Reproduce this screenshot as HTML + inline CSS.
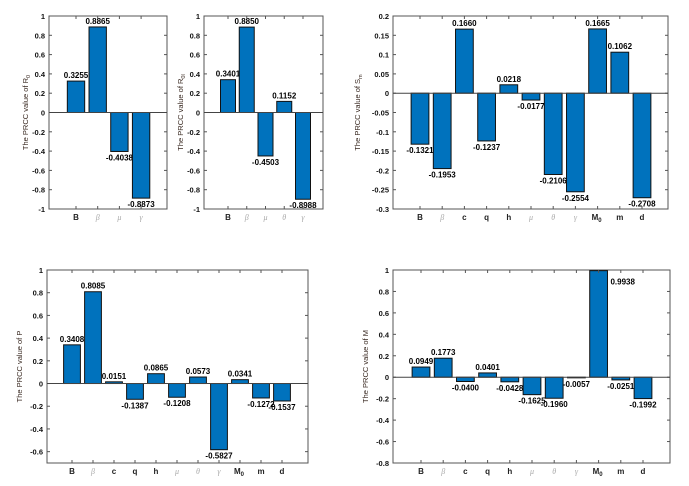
<!DOCTYPE html>
<html><head><meta charset="utf-8"><style>
body{margin:0;background:#fff;}
svg{display:block;font-family:"Liberation Sans",sans-serif;}
</style></head><body>
<svg id="c" width="689" height="486" viewBox="0 0 689 486"></svg>
<script>
const catsR0=["B","β","μ","γ"];
const valsR0=[0.3255,0.8865,-0.4038,-0.8873];
const catsR0l=["B","β","μ","θ","γ"];
const valsR0l=[0.3401,0.8850,-0.4503,0.1152,-0.8988];
const catsFull=["B","β","c","q","h","μ","θ","γ","M0","m","d"];
const valsSm=[-0.1321,-0.1953,0.1660,-0.1237,0.0218,-0.0177,-0.2106,-0.2554,0.1665,0.1062,-0.2708];
const valsP=[0.3408,0.8085,0.0151,-0.1387,0.0865,-0.1208,0.0573,-0.5827,0.0341,-0.1272,-0.1537];
const valsM=[0.0949,0.1773,-0.0400,0.0401,-0.0428,-0.1625,-0.1960,-0.0057,0.9938,-0.0251,-0.1992];
const ticksA=[1,0.8,0.6,0.4,0.2,0,-0.2,-0.4,-0.6,-0.8,-1];
const ticksSm=[0.2,0.15,0.1,0.05,0,-0.05,-0.1,-0.15,-0.2,-0.25,-0.3];
const ticksP=[1,0.8,0.6,0.4,0.2,0,-0.2,-0.4,-0.6];
const ticksM=[1,0.8,0.6,0.4,0.2,0,-0.2,-0.4,-0.6,-0.8];
const greek=new Set(["β","μ","θ","γ"]);
const svg=document.getElementById('c');
const NS="http://www.w3.org/2000/svg";
function mk(tag,attrs,parent,txt){const e=document.createElementNS(NS,tag);for(const k in attrs)e.setAttribute(k,attrs[k]);if(txt!==undefined)e.textContent=txt;parent.appendChild(e);return e;}
function panel(p){
  const g=mk('g',{},svg);
  
  
  const y=v=>p.top+(p.ymax-v)/(p.ymax-p.ymin)*(p.bottom-p.top);
  const x=i=>p.x0+i*p.step;
  const bw=p.step*0.8;
  const box=mk('rect',{x:p.left,y:p.top,width:p.right-p.left,height:p.bottom-p.top,fill:'none',stroke:'#555','stroke-width':1},g);
  
  
  p.ticks.forEach(t=>{
    const yy=y(t);
    mk('line',{x1:p.left,x2:p.left+3,y1:yy,y2:yy,stroke:'#555'},g);
    mk('line',{x1:p.right,x2:p.right-3,y1:yy,y2:yy,stroke:'#555'},g);
    const tl=mk('text',{x:p.left-4,y:yy+3,'font-size':'7.5','text-anchor':'end',fill:'#111','font-weight':'bold'},g,String(t));
    
    
  });
  p.vals.forEach((v,i)=>{
    const cx=x(i),y0=y(0),yv=y(v);
    const r=mk('rect',{x:cx-bw/2,y:Math.min(y0,yv),width:bw,height:Math.max(Math.abs(yv-y0),0.6),fill:'#0072BD',stroke:'#111','stroke-width':1},g);
    
    
    let lx=cx,ly=v>=0?yv-3:yv+9,anchor='middle';
    if(p.sideLabel===i){lx=cx+bw/2+3;ly=yv+14;anchor='start';}
    const lab=mk('text',{x:lx,y:ly,'font-size':'8','text-anchor':anchor,fill:'#000','font-weight':'bold'},g,v.toFixed(4));
    
    
  });
  const z=mk('line',{x1:p.left,x2:p.right,y1:y(0),y2:y(0),stroke:'#444','stroke-width':1},g);
  
  
  p.cats.forEach((c,i)=>{
    const cx=x(i);
    mk('line',{x1:cx,x2:cx,y1:p.bottom,y2:p.bottom-3,stroke:'#555'},g);
    mk('line',{x1:cx,x2:cx,y1:p.top,y2:p.top+3,stroke:'#555'},g);
    let t;
    if(c==="M0"){
      t=mk('text',{x:cx-1,y:p.bottom+11,'font-size':'8','text-anchor':'middle',fill:'#222','font-weight':'bold'},g);
      t.textContent='M';mk('tspan',{'font-size':'6',dy:'2'},t,'0');
    } else if(greek.has(c)){
      t=mk('text',{x:cx,y:p.bottom+11,'font-size':'8','text-anchor':'middle',fill:'#aaa','font-style':'italic','font-family':'Liberation Serif,serif'},g,c);
    } else {
      t=mk('text',{x:cx,y:p.bottom+11,'font-size':'8','text-anchor':'middle',fill:'#222','font-weight':'bold'},g,c);
    }
    
    
  });
  const cy=(p.top+p.bottom)/2;
  const yt=mk('text',{x:p.tx,y:cy,'font-size':'7.5','text-anchor':'middle',fill:'#3a2a22',transform:`rotate(-90 ${p.tx} ${cy})`},g,p.title);
  if(p.sub){mk('tspan',{'font-size':'5.5',dy:'2'},yt,p.sub);}
  
  
}
panel({name:'chart-r0',cats:catsR0,vals:valsR0,ticks:ticksA,ymax:1,ymin:-1,top:16,bottom:209,left:49,right:167,x0:76,step:21.7,tx:28,title:'The PRCC value of R',sub:'0'});
panel({name:'chart-r0l',cats:catsR0l,vals:valsR0l,ticks:ticksA,ymax:1,ymin:-1,top:16,bottom:209,left:204,right:323,x0:228,step:18.75,tx:183,title:'The PRCC value of R',sub:'0l'});
panel({name:'chart-sm',cats:catsFull,vals:valsSm,ticks:ticksSm,ymax:0.2,ymin:-0.3,top:16,bottom:209,left:393,right:668,x0:420,step:22.2,tx:360,title:'The PRCC value of S',sub:'m'});
panel({name:'chart-p',cats:catsFull,vals:valsP,ticks:ticksP,ymax:1,ymin:-0.7,top:270,bottom:463,left:47,right:308,x0:72,step:21,tx:22,title:'The PRCC value of P'});
panel({name:'chart-m',cats:catsFull,vals:valsM,ticks:ticksM,ymax:1,ymin:-0.8,top:270,bottom:463,left:393,right:670,x0:421,step:22.2,tx:368,title:'The PRCC value of M',sideLabel:8});
</script>
</body></html>
